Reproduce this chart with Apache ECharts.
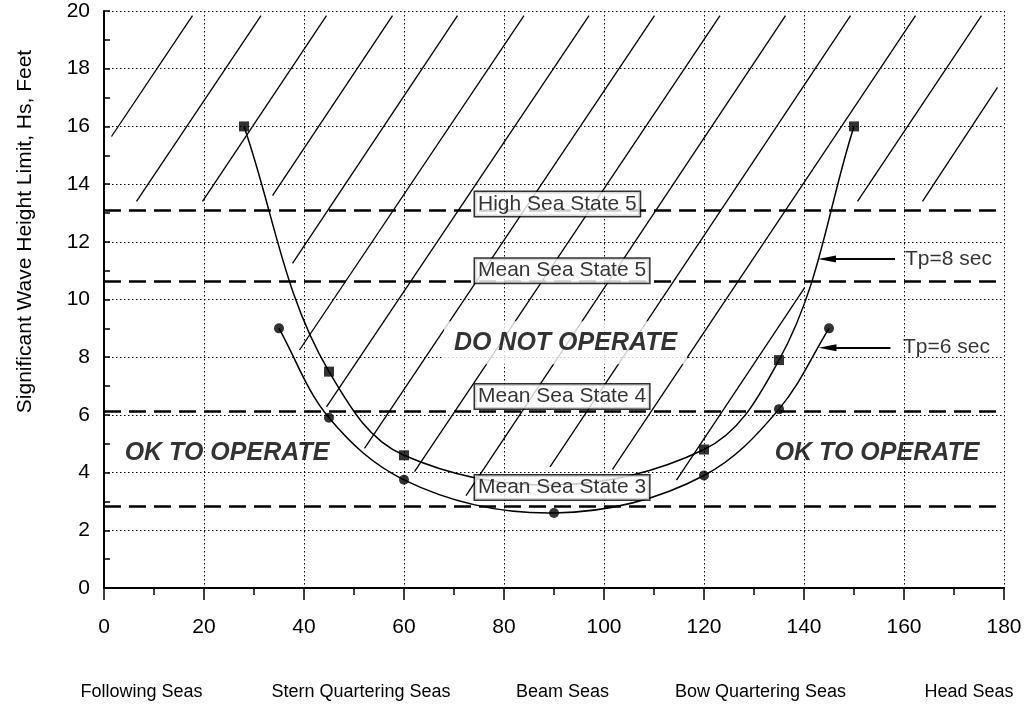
<!DOCTYPE html>
<html>
<head>
<meta charset="utf-8">
<script src="https://cdn.jsdelivr.net/npm/echarts@6/dist/echarts.min.js"></script>
<style>
  html, body { margin: 0; padding: 0; background: #fff; }
  #chart { width: 1026px; height: 706px; }
</style>
</head>
<body>
<div id="chart"></div>
<script>
// heading angle (deg) vs wave height limit (ft)
const tp8Points = [[28, 16], [45, 7.5], [60, 4.6], [120, 4.8], [135, 7.9], [150, 16]]
const tp6Points = [[35, 9], [45, 5.9], [60, 3.75], [90, 2.6], [120, 3.9], [135, 6.2], [145, 9]]

const seaStateNames = ['High Sea State 5', 'Mean Sea State 5', 'Mean Sea State 4', 'Mean Sea State 3']
const seaStateLevels = [13.1, 10.62, 6.13, 2.85]

const headingNames = ['Following Seas', 'Stern Quartering Seas', 'Beam Seas', 'Bow Quartering Seas', 'Head Seas']
const headingValues = [7.5, 51.4, 91.7, 131.3, 173]

const xTicks = [0, 20, 40, 60, 80, 100, 120, 140, 160, 180]
const yTicks = [0, 2, 4, 6, 8, 10, 12, 14, 16, 18, 20]

// hatching of the "do not operate" zone, [x1, y1, x2, y2]
const hatchSegments = [
  [1.5, 15.65, 17.7, 19.84],
  [6.5, 13.4, 31.4, 19.84],
  [19.7, 13.4, 44.5, 19.84],
  [33.7, 13.6, 57.7, 19.84],
  [37.7, 11.25, 70.7, 19.84],
  [39.1, 8.25, 84, 19.84],
  [44.5, 6.28, 97, 19.84],
  [52.1, 4.84, 110.1, 19.84],
  [62.1, 4.03, 123.2, 19.84],
  [72.4, 3.2, 136.3, 19.84],
  [89.2, 4.2, 149.3, 19.84],
  [101.7, 4.11, 162.3, 19.84],
  [150.7, 13.4, 175.5, 19.84],
  [114.5, 3.74, 140.1, 10.4],
  [163.7, 13.4, 178.7, 17.35]
]

// where the annotation texts sit (data coords)
const stateLabelX = 74.2
const stateLabelY = [13.31, 11.0, 6.64, 3.48]
const font = 'Liberation Sans, Arial, sans-serif'

const chart = echarts.init(document.getElementById('chart'))

const dotted = { color: '#000', width: 1, type: [1.5, 2.5] }

// smooth curve through the points, one bezier per segment
// tangent = bisector of the two neighbouring chords (in pixels)
const splineItem = (points) => (params, api) => {
  const i = params.dataIndex
  if (i >= points.length - 1) return
  const px = points.map(p => api.coord(p))
  const dir = (k) => {
    let ux = 0, uy = 0
    const p = px[k], prev = px[k - 1], next = px[k + 1]
    if (prev) {
      const l = Math.hypot(p[0] - prev[0], p[1] - prev[1])
      ux += (p[0] - prev[0]) / l
      uy += (p[1] - prev[1]) / l
    }
    if (next) {
      const l = Math.hypot(next[0] - p[0], next[1] - p[1])
      ux += (next[0] - p[0]) / l
      uy += (next[1] - p[1]) / l
    }
    const l = Math.hypot(ux, uy)
    return [ux / l, uy / l]
  }
  const a = px[i], b = px[i + 1]
  const ta = dir(i), tb = dir(i + 1)
  const d = Math.hypot(b[0] - a[0], b[1] - a[1]) * 0.35
  return {
    type: 'bezierCurve',
    shape: {
      x1: a[0], y1: a[1], x2: b[0], y2: b[1],
      cpx1: a[0] + ta[0] * d, cpy1: a[1] + ta[1] * d,
      cpx2: b[0] - tb[0] * d, cpy2: b[1] - tb[1] * d
    },
    style: { stroke: '#000', lineWidth: 1.5, fill: 'none' }
  }
}

const arrowLine = (from, to) => ({
  silent: true,
  symbol: ['none', 'triangle'],
  symbolSize: [7, 18],
  label: { show: false },
  lineStyle: { color: '#000', width: 2, type: 'solid' },
  data: [[{ coord: from }, { coord: to }]]
})

const option = {
  animation: false,
  backgroundColor: '#fff',
  grid: { left: 104, right: 22, top: 11, bottom: 118 },
  xAxis: [
    {
      type: 'value',
      min: 0,
      max: 180,
      interval: 20,
      axisLine: { lineStyle: { color: '#000', width: 2 } },
      axisTick: { length: 12, lineStyle: { color: '#000', width: 1.5 } },
      minorTick: { show: true, splitNumber: 2, length: 7, lineStyle: { color: '#000', width: 1.5 } },
      splitLine: { show: true, showMinLine: false, showMaxLine: true, lineStyle: dotted },
      axisLabel: {
        color: '#000', fontSize: 21, fontFamily: font, margin: 29,
        customValues: xTicks, formatter: v => String(v)
      }
    },
    {
      type: 'value',
      min: 0,
      max: 180,
      position: 'bottom',
      axisLine: { show: false },
      axisTick: { show: false },
      splitLine: { show: false },
      axisLabel: {
        color: '#000', fontSize: 18, fontFamily: font, margin: 95,
        customValues: headingValues,
        formatter: v => headingNames[headingValues.indexOf(v)] || ''
      }
    }
  ],
  yAxis: {
    type: 'value',
    min: 0,
    max: 20,
    interval: 2,
    name: 'Significant Wave Height Limit, Hs, Feet',
    nameLocation: 'middle',
    nameRotate: 90,
    nameGap: 68,
    nameTextStyle: { color: '#000', fontSize: 21, fontFamily: font, padding: [0, 0, 0, 136] },
    axisLine: { lineStyle: { color: '#000', width: 2 } },
    axisTick: { inside: true, length: 6, lineStyle: { color: '#000', width: 1.5 } },
    minorTick: { show: true, splitNumber: 2, length: 6, lineStyle: { color: '#000', width: 1.5 } },
    splitLine: { show: true, showMinLine: false, showMaxLine: true, lineStyle: dotted },
    axisLabel: {
      color: '#000', fontSize: 21, fontFamily: font, margin: 14,
      customValues: yTicks, formatter: v => String(v)
    }
  },
  series: [
    {
      name: 'hatch',
      type: 'lines',
      coordinateSystem: 'cartesian2d',
      silent: true,
      z: 1,
      lineStyle: { color: '#000', width: 1.3, opacity: 1 },
      data: hatchSegments.map(s => ({ coords: [[s[0], s[1]], [s[2], s[3]]] }))
    },
    {
      name: 'sea states',
      type: 'line',
      data: [],
      z: 2,
      markLine: {
        silent: true,
        symbol: 'none',
        label: { show: false },
        lineStyle: { color: '#000', width: 2.6, type: [17, 8] },
        data: seaStateLevels.map(v => ({ yAxis: v }))
      }
    },
    {
      name: 'Tp=8 curve',
      type: 'custom',
      z: 3,
      silent: true,
      encode: { x: 0, y: 1 },
      data: tp8Points,
      renderItem: splineItem(tp8Points)
    },
    {
      name: 'Tp=6 curve',
      type: 'custom',
      z: 3,
      silent: true,
      encode: { x: 0, y: 1 },
      data: tp6Points,
      renderItem: splineItem(tp6Points)
    },
    {
      name: 'Tp=8 sec',
      type: 'scatter',
      z: 4,
      symbol: 'rect',
      symbolSize: 10,
      itemStyle: { color: '#000' },
      data: tp8Points,
      markLine: arrowLine([158.2, 11.4], [144.6, 11.4])
    },
    {
      name: 'Tp=6 sec',
      type: 'scatter',
      z: 4,
      symbol: 'circle',
      symbolSize: 10,
      itemStyle: { color: '#000' },
      data: tp6Points,
      markLine: arrowLine([157.3, 8.33], [144.7, 8.33])
    },
    {
      name: 'state labels',
      type: 'scatter',
      z: 10,
      silent: true,
      symbolSize: 0,
      data: seaStateNames.map((n, i) => ({ value: [stateLabelX, stateLabelY[i]], name: n })),
      label: {
        show: true,
        position: 'right',
        distance: 0,
        formatter: p => p.name,
        color: '#000',
        fontSize: 21,
        fontFamily: font,
        backgroundColor: '#fff',
        borderColor: '#000',
        borderWidth: 1.5,
        padding: [2, 3, 1, 3]
      }
    },
    {
      name: 'zone labels',
      type: 'scatter',
      z: 10,
      silent: true,
      symbolSize: 0,
      data: [
        { value: [24.6, 4.67], name: 'OK TO OPERATE' },
        { value: [154.6, 4.67], name: 'OK TO OPERATE' },
        {
          value: [92.3, 8.5], name: 'DO NOT OPERATE',
          label: { backgroundColor: '#fff', padding: [9, 10, 9, 10] }
        }
      ],
      label: {
        show: true,
        position: 'inside',
        formatter: p => p.name,
        color: '#000',
        fontSize: 25,
        fontWeight: 'bold',
        fontStyle: 'italic',
        fontFamily: font
      }
    },
    {
      name: 'period labels',
      type: 'scatter',
      z: 10,
      silent: true,
      symbolSize: 0,
      data: [
        { value: [160.2, 11.4], name: 'Tp=8 sec' },
        { value: [159.8, 8.33], name: 'Tp=6 sec' }
      ],
      label: {
        show: true,
        position: 'right',
        distance: 0,
        formatter: p => p.name,
        color: '#000',
        fontSize: 21,
        fontFamily: font
      }
    }
  ]
}

chart.setOption(option)
</script>
</body>
</html>
